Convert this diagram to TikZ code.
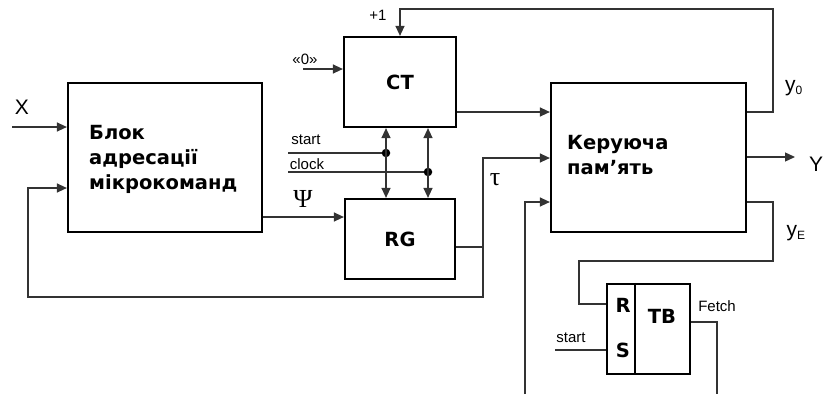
\documentclass[tikz,border=0pt]{standalone}
\usepackage{fontspec}
\setmainfont{Liberation Sans}
\newfontfamily\boldfont{DejaVu Sans}
\newfontfamily\greekfont{Liberation Serif}
\usetikzlibrary{arrows.meta,positioning,calc}
\definecolor{mkWire}{HTML}{333333}
\tikzset{
  >={Triangle[length=10pt,width=9pt]},
  blk/.style={draw=black, line width=2.2pt, fill=white, inner sep=0pt},
  btxt/.style={font=\fontsize{19.5}{25}\boldfont\bfseries, align=left, inner sep=0pt},
  sig/.style={font=\fontsize{15}{17}\selectfont, inner sep=0pt},
  big/.style={font=\fontsize{21}{23}\selectfont, inner sep=0pt},
  grk/.style={font=\fontsize{26}{28}\greekfont, inner sep=0pt},
  wire/.style={draw=mkWire, line width=1.3pt},
  flow/.style={->, draw=mkWire, line width=1.3pt},
  both/.style={<->, draw=mkWire, line width=1.3pt},
  dot/.style={circle, fill=black, inner sep=0pt, minimum size=8.5pt},
}

\begin{document}
\begin{tikzpicture}[x=1pt,y=-1pt]
    \useasboundingbox (0,0) rectangle (827,394);
    % blocks
    \node[blk,minimum width=194pt,minimum height=149pt] (addr) at (165,157.5){};
    \node[btxt,anchor=west] (addrT) at (89,159){Блок\\адресації\\мікрокоманд};
    \node[blk,minimum width=112pt,minimum height=90pt] (ct) at (400,82){};
    \node[btxt] (ctT) at (400,82){CT};
    \node[blk,minimum width=110pt,minimum height=80pt] (rg) at (400,239){};
    \node[btxt] (rgT) at (400,239){RG};
    \node[blk,minimum width=195pt,minimum height=149pt] (mem) at (648.5,157.5){};
    \node[btxt,anchor=west] (memT) at (567,155){Керуюча\\пам’ять};
    \node[blk,minimum width=83pt,minimum height=90pt] (tb) at (648.5,329){};
    \draw[line width=1.4pt](tb.north -| 635,0)--(tb.south -| 635,0);
    \node[btxt] (tbR) at (623,305){R};
    \node[btxt] (tbS) at (623,350){S};
    \node[btxt] (tbT) at (662,316){TB};

    % inputs of the addressing block
    \coordinate (xin) at (12,127);
    \draw[flow](xin)--(addr.west |- xin);
    \node[big] (xl) at (22,107){X};
    \coordinate (tj) at (483,247);
    \coordinate (fb) at (28,297);
    \draw[wire](rg.east |- tj)--(tj);
    \draw[flow](tj)|-(fb)|-(addr.west |- 0,188);
    \draw[flow](tj)|-(mem.west |- 0,158);
    \node[grk] (tau) at (495,180){τ};
    \draw[flow](addr.east |- 0,217)--(rg.west |- 0,217);
    \node[grk] (psi) at (303,199){Ψ};

    % counter
    \coordinate (zin) at (303,69);
    \draw[flow](zin)--(ct.west |- zin);
    \node[sig] (zl) at (305,59){«0»};
    \draw[flow](ct.east |- 0,112)--(mem.west |- 0,112);
    \coordinate (st) at (288,153);
    \coordinate (cl) at (288,172);
    \draw[wire](st)--(386,153);
    \draw[wire](cl)--(428,172);
    \node[dot] (d1) at (386,153){};
    \node[dot] (d2) at (428,172){};
    \node[sig] (stl) at (306,140){start};
    \node[sig] (cll) at (307,164){clock};
    \foreach \x in {386,428}{
      \draw[both](ct.south -| \x,0)--(rg.north -| \x,0);}

    % outputs of the control memory
    \coordinate (y0a) at (773,112);
    \draw[flow](mem.east |- y0a)--(y0a)--(773,9)-|(ct.north);
    \node[sig] (pl) at (378,15){+1};
    \node[big] (y0l) at (794,88){y\textsubscript{\fontsize{12}{12}\selectfont 0}};
    \coordinate (yout) at (795,157);
    \draw[flow](mem.east |- yout)--(yout);
    \node[big] (yl) at (816,164){Y};
    \coordinate (yea) at (773,202);
    \draw[wire](mem.east |- yea)--(yea)--(773,261)-|(579,304)--(tb.west |- 0,304);
    \node[big] (yel) at (796,233){y\textsubscript{\fontsize{12}{12}\selectfont E}};
    \coordinate (fin) at (525,394);
    \draw[flow](fin)|-(mem.west |- 0,202);

    % trigger
    \coordinate (st2) at (555,350);
    \draw[wire](st2)--(tb.west |- st2);
    \node[sig] (st2l) at (571,338){start};
    \draw[wire](tb.east |- 0,322)-|(717,394);
    \node[sig] (fl) at (717,306){Fetch};
\end{tikzpicture}
\end{document}
